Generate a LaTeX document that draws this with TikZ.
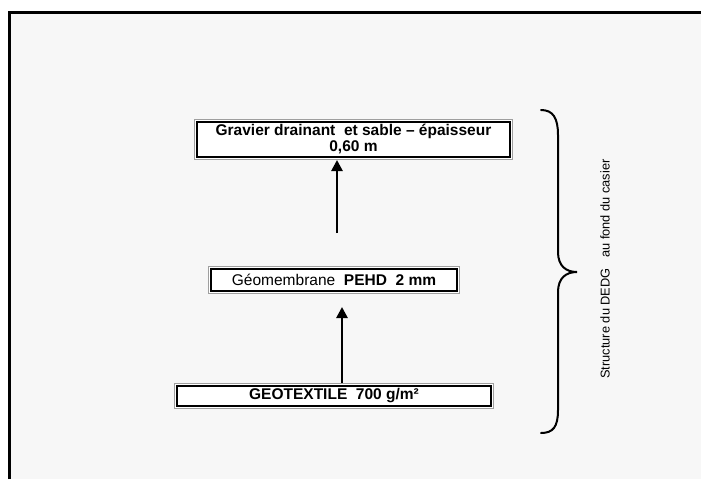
\documentclass[tikz,border=0pt]{standalone}
\usepackage{fontspec}
\setmainfont{Liberation Sans}
\usetikzlibrary{arrows.meta}
\definecolor{bgfill}{HTML}{F7F7F7}
\tikzset{
  layerbox/.style={rectangle, inner sep=0pt, fill=white, draw=black, line width=2pt,
    preaction={draw=gray!75, line width=6pt},
    preaction={draw=white, line width=4pt},
    font=\fontsize{15.5}{16}\selectfont, align=center},
  uparrow/.style={draw=black, line width=2.6pt, -{Triangle[length=11pt,width=11pt]}},
  bracestyle/.style={draw=black, line width=2pt, line cap=round},
  sidelabel/.style={font=\fontsize{12.8}{14}\selectfont, rotate=90}
}
\begin{document}
\begin{tikzpicture}[x=1pt,y=-1pt]
\useasboundingbox (0,0) rectangle (701,479);
\fill[white] (0,0) rectangle (701,479);
\fill[bgfill] (9,12.5) rectangle (701,479);
\draw[black, line width=3pt] (9,479) -- (9,12.5) -- (701,12.5);

\node[layerbox, minimum width=313pt, minimum height=35pt] (b1) at (353.5,139.5)
  {\bfseries Gravier drainant\ \ et sable -- épaisseur\\\bfseries 0,60 m};
\node[layerbox, minimum width=246pt, minimum height=22pt] (b2) at (334,280)
  {Géomembrane\ \ \textbf{PEHD\ \ 2 mm}};
\node[layerbox, minimum width=314pt, minimum height=20pt] (b3) at (334,396)
  {\bfseries GEOTEXTILE\ \ 700 g/m²};

\coordinate (a1) at (337,233);
\coordinate (t2) at (342,307);
\draw[uparrow, shorten >=2pt] (a1) -- (a1 |- b1.south);
\draw[uparrow, shorten <=2pt] (t2 |- b3.north) -- (t2);

\draw[bracestyle] (541,110) .. controls (553,110) and (558,118) .. (558,135)
  -- (558,252) .. controls (558,266) and (566,272) .. (577,272)
  .. controls (566,272) and (558,278) .. (558,292)
  -- (558,410) .. controls (558,427) and (553,433) .. (541,433);
\node[sidelabel] (lbl) at (605,269) {Structure du DEDG\ \ \ au fond du casier};
\end{tikzpicture}
\end{document}
